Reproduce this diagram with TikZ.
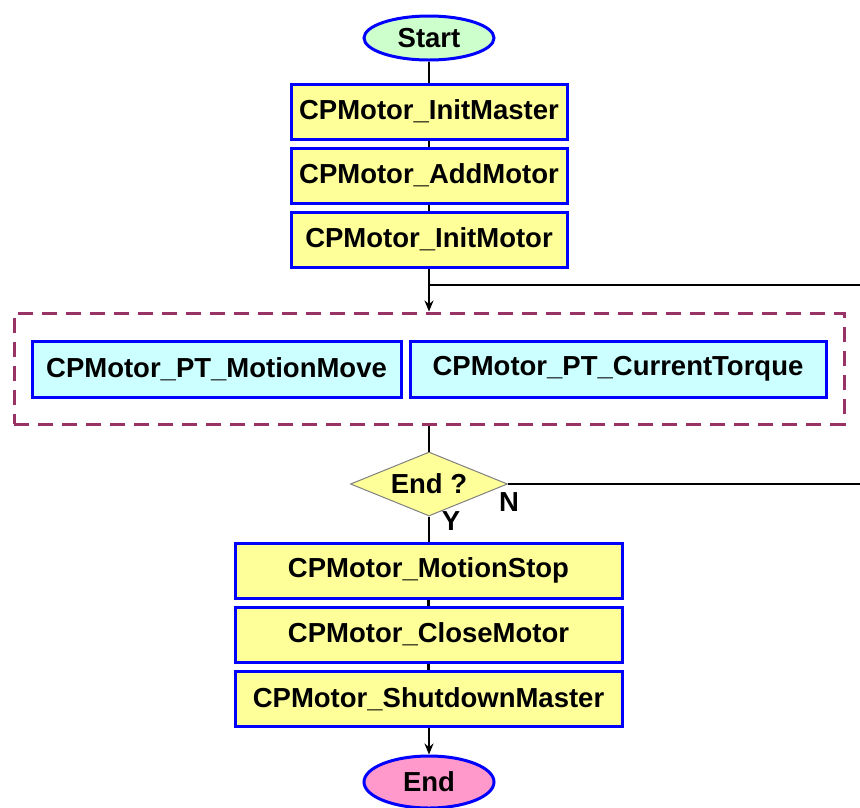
\documentclass[tikz,border=0pt]{standalone}
\usepackage{fontspec}
\setmainfont{Liberation Sans}
\usetikzlibrary{shapes.geometric,arrows.meta}
\definecolor{bblue}{HTML}{0000FF}
\definecolor{yfill}{HTML}{FFFF99}
\definecolor{cfill}{HTML}{CCFFFF}
\definecolor{gfill}{HTML}{CCFFCC}
\definecolor{pfill}{HTML}{FF99CC}
\definecolor{dashc}{HTML}{993366}
\tikzset{
  txt/.style={font=\fontsize{27.5}{30}\selectfont\bfseries},
  box/.style={txt, draw=bblue, line width=3pt, fill=yfill, minimum height=55pt, inner sep=0pt},
  cbox/.style={box, fill=cfill, minimum height=56pt},
  term/.style={txt, ellipse, draw=bblue, line width=3pt, minimum width=130pt, minimum height=44pt, inner sep=0pt},
  dec/.style={diamond, draw=gray, line width=1pt, fill=yfill, minimum width=157pt, minimum height=64pt, inner sep=0pt, shape aspect=2.45},
  conn/.style={line width=2.8pt, black},
  arr/.style={conn, -{Stealth[length=11pt,width=9pt]}},
  grp/.style={draw=dashc, line width=3pt, dash pattern=on 15pt off 9pt},
  lbl/.style={txt, inner sep=0pt}
}
\begin{document}
\begin{tikzpicture}[x=1pt,y=-1pt]
\useasboundingbox (0,0) rectangle (860,807);
\node[term, fill=gfill] (start) at (429,38) {Start};
\node[box, minimum width=276pt] (b1) at (429,111.5) {CPMotor\_InitMaster};
\node[box, minimum width=276pt] (b2) at (429,175.5) {CPMotor\_AddMotor};
\node[box, minimum width=276pt] (b3) at (429,239.5) {CPMotor\_InitMotor};
\node[grp, minimum width=830pt, minimum height=111pt, inner sep=0pt] (g) at (429,368.5) {};
\node[cbox, minimum width=369pt] (p1) at (216.5,369) {CPMotor\_PT\_MotionMove};
\node[cbox, minimum width=416pt] (p2) at (618,369) {CPMotor\_PT\_CurrentTorque};
\node[dec, label={[lbl]center:End ?}] (d) at (429,484) {};
\node[box, minimum width=387pt] (s1) at (428.5,570.5) {CPMotor\_MotionStop};
\node[box, minimum width=387pt] (s2) at (428.5,634.5) {CPMotor\_CloseMotor};
\node[box, minimum width=387pt] (s3) at (428.5,699) {CPMotor\_ShutdownMaster};
\node[term, fill=pfill, minimum height=52pt] (end) at (429,782) {End};
\node[lbl] (n) at (509,502) {N};
\node[lbl] (y) at (451,521) {Y};
\coordinate (j1) at (429,285);
\coordinate (r1) at (862,285);
\coordinate (r2) at (862,484);
\draw[conn] (start) -- (b1);
\draw[conn] (b1) -- (b2);
\draw[conn] (b2) -- (b3);
\draw[arr] (b3) -- (g.north -| b3);
\draw[conn] (j1) -- (r1);
\draw[conn] (g.south -| d) -- (d);
\draw[conn] (d.east) -- (r2);
\draw[conn] (d) -- (s1.north -| d);
\draw[conn] (s1) -- (s2);
\draw[conn] (s2) -- (s3);
\draw[arr] (s3.south -| end) -- (end);
\end{tikzpicture}
\end{document}
